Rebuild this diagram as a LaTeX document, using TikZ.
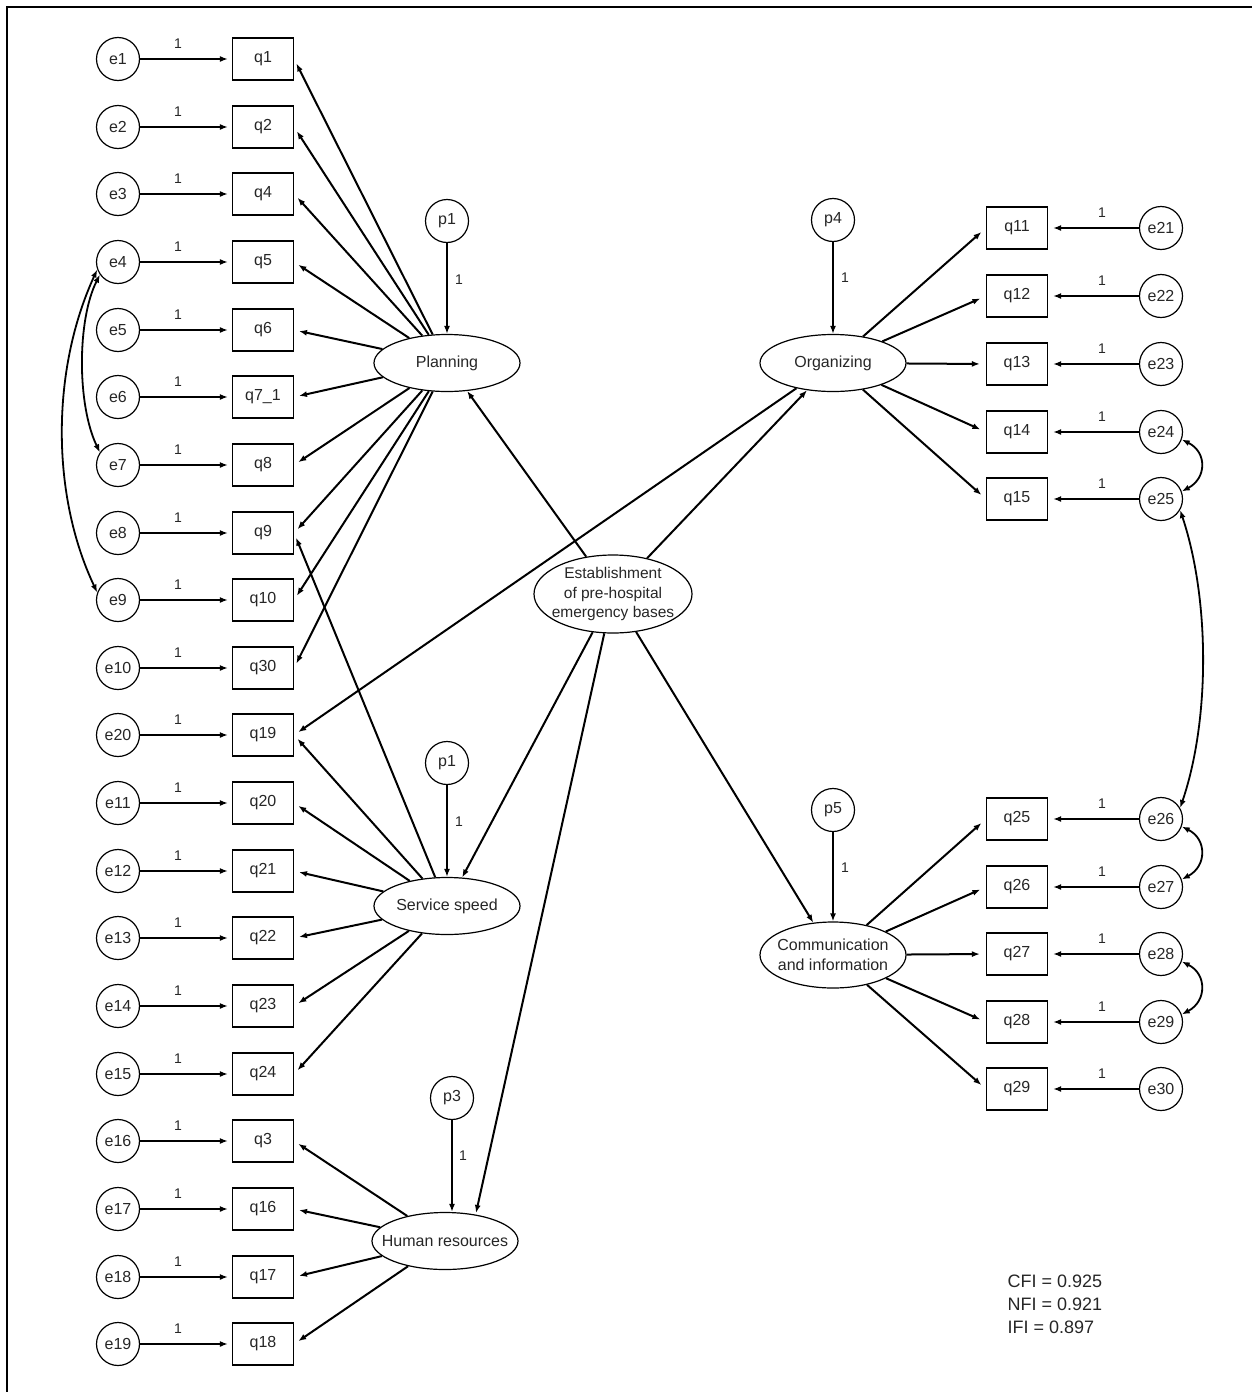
\documentclass[tikz,border=0pt]{standalone}
\usepackage{fontspec}
\setmainfont{Liberation Sans}
\usetikzlibrary{shapes.geometric,arrows.meta}
\begin{document}
\begin{tikzpicture}[x=1pt,y=-1pt,
  font=\fontsize{16}{18}\selectfont, text=black!85,
  err/.style={circle,draw,line width=1.2pt,minimum size=43pt,inner sep=0pt},
  obs/.style={rectangle,draw,line width=1.2pt,minimum width=61pt,minimum height=42pt,inner sep=0pt},
  lat/.style={ellipse,draw,line width=1.2pt,inner sep=0pt,minimum width=146pt,minimum height=57pt},
  arr/.style={line width=2pt,-{Latex[length=8pt,width=6pt]}},
  cov/.style={line width=1.8pt,{Latex[length=8pt,width=6pt]}-{Latex[length=8pt,width=6pt]}},
  one/.style={font=\fontsize{14}{16}\selectfont,inner sep=1pt}
]
\useasboundingbox (0,0) rectangle (1252,1392);
\draw[line width=2pt] (7,1392) -- (7,7) -- (1252,7);

% left column
\foreach \en/\qn/\qt [count=\i from 0] in {e1/q1/q1,e2/q2/q2,e3/q4/q4,e4/q5/q5,e5/q6/q6,e6/q71/q7\_1,e7/q8/q8,e8/q9/q9,e9/q10/q10,e10/q30/q30,e20/q19/q19,e11/q20/q20,e12/q21/q21,e13/q22/q22,e14/q23/q23,e15/q24/q24,e16/q3/q3,e17/q16/q16,e18/q17/q17,e19/q18/q18}{
  \pgfmathsetmacro{\yy}{round(59+67.65*\i)}
  \node[err] (\en) at (118,\yy) {\en};
  \node[obs] (\qn) at (263,\yy) {\qt};
  \node[one] (l\en) at (178,\yy-15) {1};
  \draw[arr,shorten >=4pt] (\en) -- (\qn);
}

% right column
\foreach \en/\qn/\yy in {e21/q11/228,e22/q12/296,e23/q13/364,e24/q14/432,e25/q15/499,e26/q25/819,e27/q26/887,e28/q27/954,e29/q28/1022,e30/q29/1089}{
  \node[err] (\en) at (1161,\yy) {\en};
  \node[obs] (\qn) at (1017,\yy) {\qn};
  \node[one] (l\en) at (1102,\yy-15) {1};
  \draw[arr,shorten >=5pt] (\en) -- (\qn);
}

% latent variables
\node[lat,label=center:Planning] (plan) at (447,363) {};
\node[lat,label=center:Service speed] (serv) at (447,906) {};
\node[lat,label=center:Human resources] (hr) at (445,1241) {};
\node[lat,label=center:Organizing] (org) at (833,363) {};
\node[lat,minimum height=66pt,label={[align=center,font=\fontsize{16}{19.5}\selectfont]center:Communication\\and information}] (comm) at (833,955) {};
\node[lat,minimum width=158pt,minimum height=78pt,label={[align=center,font=\fontsize{15.5}{19.5}\selectfont]center:Establishment\\of pre-hospital\\emergency bases}] (est) at (613,594) {};
\coordinate (hrin) at (476,1213);

% disturbances
\node[err] (p1a) at (447,221) {p1};
\node[err] (p1b) at (447,763) {p1};
\node[err] (p3) at (452,1098) {p3};
\node[err] (p4) at (833,220) {p4};
\node[err] (p5) at (833,810) {p5};
\draw[arr] (p1a) -- (plan);
\draw[arr] (p1b) -- (serv);
\draw[arr] (p3.south) -- (p3.south |- hr.north);
\draw[arr] (p4) -- (org);
\draw[arr] (p5) -- (comm);
\node[one] (lp1a) at (459,280) {1};
\node[one] (lp1b) at (459,822) {1};
\node[one] (lp3) at (463,1156) {1};
\node[one] (lp4) at (845,278) {1};
\node[one] (lp5) at (845,868) {1};

% loadings
\foreach \t in {q1,q2,q4,q5,q6,q71,q8,q9,q10,q30}
  \draw[arr,shorten >=5pt] (plan) -- (\t.east);
\foreach \t in {q9,q19,q20,q21,q22,q23,q24}
  \draw[arr,shorten >=5pt] (serv) -- (\t.east);
\foreach \t in {q3,q16,q17,q18}
  \draw[arr,shorten >=5pt] (hr) -- (\t.east);
\foreach \t in {q11,q12,q13,q14,q15}
  \draw[arr,shorten >=6pt] (org) -- (\t.west);
\draw[arr,shorten >=5pt] (org) -- (q19.east);
\foreach \t in {q25,q26,q27,q28,q29}
  \draw[arr,shorten >=6pt] (comm) -- (\t.west);

% second order
\foreach \t in {plan,org,serv,comm}
  \draw[arr] (est) -- (\t);
\draw[arr] (est) -- (hrin);

% covariances
\draw[cov] (e4.215) .. controls (77,320) and (77,405) .. (e7.145);
\draw[cov] (e4.200) .. controls (51,370) and (51,495) .. (e9.160);
\draw[cov] (e24.-20) .. controls (1207,452) and (1207,478) .. (e25.20);
\draw[cov] (e25.-30) .. controls (1210,600) and (1210,720) .. (e26.30);
\draw[cov] (e26.-20) .. controls (1207,839) and (1207,866) .. (e27.20);
\draw[cov] (e28.-20) .. controls (1207,974) and (1207,1001) .. (e29.20);

% fit
\node[anchor=west,align=left,font=\fontsize{18}{23}\selectfont] (fit) at (1004,1304) {CFI = 0.925\\NFI = 0.921\\IFI = 0.897};
\end{tikzpicture}
\end{document}
